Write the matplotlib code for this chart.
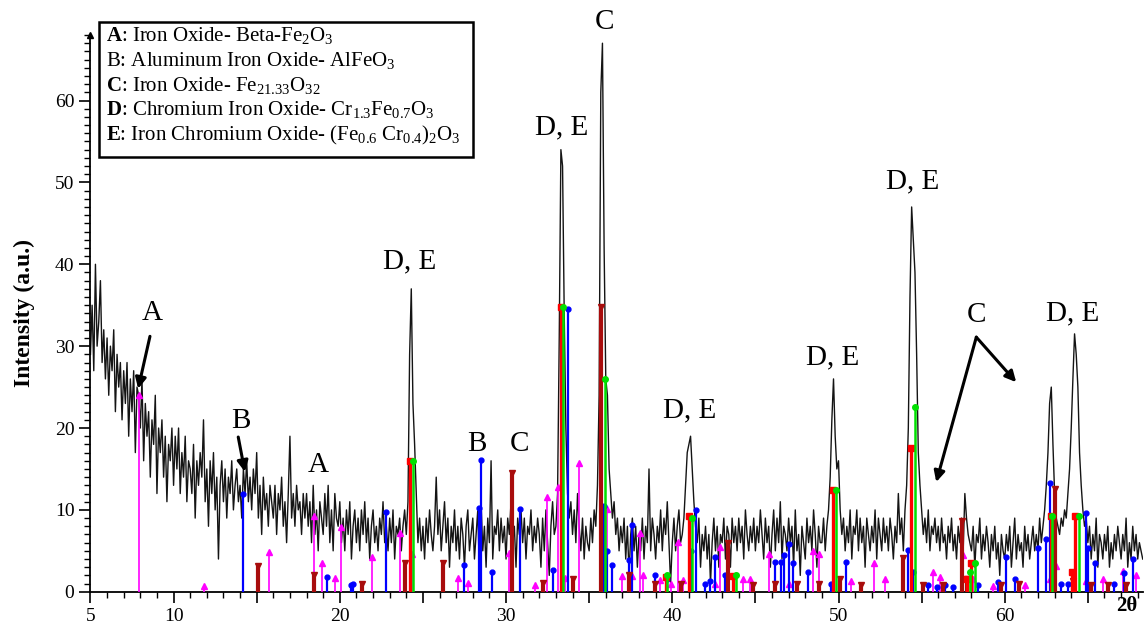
import numpy as np
import matplotlib
matplotlib.use("Agg")
import matplotlib.pyplot as plt
from matplotlib.patches import Rectangle
from matplotlib.ticker import FixedLocator, MultipleLocator, FuncFormatter

plt.rcParams['font.family'] = ['Liberation Serif', 'DejaVu Serif']
plt.rcParams['mathtext.fontset'] = 'custom'
plt.rcParams['mathtext.rm'] = 'Liberation Serif'
plt.rcParams['mathtext.it'] = 'Liberation Serif:italic'
plt.rcParams['mathtext.bf'] = 'Liberation Serif:bold'

# measured pattern, 0.1 deg step starting at 5.0 (one row per degree)
intensity = [
    29, 35, 27, 40, 30, 33, 38, 28, 32, 26,
    31, 24, 30, 27, 32, 22, 29, 25, 28, 21,
    27, 23, 28, 19, 26, 22, 27, 17, 25, 24,
    20, 26, 16, 23, 19, 22, 14, 21, 18, 24,
    12, 20, 17, 21, 14, 19, 11, 18, 16, 20,
    13, 19, 15, 20, 12, 17, 14, 19, 11, 16,
    15, 12, 18, 9, 16, 13, 17, 14, 21, 11,
    15, 8, 16, 12, 17, 10, 14, 4, 13, 16,
    11, 15, 9, 14, 12, 16, 10, 13, 15, 11,
    13, 9, 15, 12, 16, 11, 14, 10, 15, 12,
    17, 9, 13, 7, 14, 10, 12, 8, 13, 11,
    9, 13, 7, 12, 10, 14, 8, 11, 6, 12,
    19, 9, 12, 8, 13, 10, 11, 7, 12, 9,
    12, 8, 11, 6, 13, 7, 10, 5, 11, 9,
    7, 12, 8, 13, 6, 10, 5, 12, 9, 8,
    11, 6, 9, 5, 10, 7, 11, 4, 8, 10,
    6, 9, 5, 10, 7, 11, 6, 9, 4, 8,
    10, 6, 8, 5, 9, 7, 11, 6, 8, 5,
    9, 6, 10, 4, 8, 7, 9, 5, 8, 10,
    7, 11, 29, 37, 23, 18, 12, 6, 9, 5,
    8, 4, 9, 6, 10, 7, 5, 8, 14, 7,
    10, 5, 8, 11, 6, 9, 3, 8, 6, 10,
    5, 8, 4, 9, 7, 3, 8, 10, 5, 7,
    9, 4, 7, 10, 2, 11, 5, 8, 3, 9,
    6, 16, 4, 8, 7, 10, 5, 9, 6, 8,
    4, 9, 7, 11, 6, 8, 3, 9, 7, 10,
    6, 9, 4, 8, 7, 10, 5, 8, 6, 9,
    7, 3, 9, 5, 10, 6, 2, 8, 11, 7,
    8, 12, 31, 54, 52, 34, 20, 12, 9, 11,
    7, 10, 6, 12, 8, 5, 9, 4, 8, 6,
    5, 9, 6, 10, 8, 13, 24, 61, 67, 42,
    26, 24, 15, 12, 9, 11, 7, 9, 5, 8,
    6, 9, 4, 8, 2, 7, 9, 5, 8, 3,
    7, 5, 9, 4, 8, 6, 15, 5, 9, 7,
    4, 8, 6, 10, 5, 9, 7, 11, 6, 1,
    6, 9, 5, 8, 10, 6, 7, 9, 13, 17,
    18, 19, 15, 11, 8, 6, 9, 3, 7, 5,
    8, 4, 7, 1, 6, 9, 5, 8, 3, 7,
    6, 9, 4, 8, 7, 3, 9, 6, 8, 5,
    9, 6, 8, 4, 10, 7, 5, 8, 6, 9,
    5, 8, 6, 10, 7, 4, 9, 6, 8, 3,
    7, 10, 5, 9, 6, 11, 4, 8, 7, 5,
    9, 6, 8, 3, 10, 5, 7, 2, 8, 6,
    4, 9, 6, 8, 5, 10, 7, 3, 8, 6,
    6, 9, 5, 8, 10, 14, 21, 26, 19, 15,
    16, 10, 7, 9, 5, 8, 6, 10, 4, 8,
    7, 10, 5, 9, 6, 8, 3, 9, 7, 5,
    8, 6, 10, 4, 9, 7, 5, 9, 6, 8,
    5, 9, 7, 4, 8, 6, 12, 7, 9, 5,
    10, 13, 20, 36, 47, 43, 39, 29, 17, 13,
    10, 7, 9, 6, 10, 5, 8, 7, 9, 6,
    8, 5, 9, 6, 7, 4, 8, 6, 9, 5,
    7, 4, 8, 6, 9, 5, 12, 9, 7, 6,
    5, 8, 3, 7, 6, 9, 4, 7, 5, 8,
    6, 3, 7, 5, 8, 4, 6, 2, 7, 5,
    4, 7, 5, 8, 3, 6, 9, 4, 7, 5,
    6, 3, 8, 5, 7, 4, 6, 8, 5, 7,
    5, 9, 6, 8, 10, 13, 17, 23, 25, 18,
    12, 9, 8, 7, 9, 8, 10, 9, 12, 15,
    20, 26, 31.5, 29, 25, 17, 13, 10, 8, 9,
    6, 8, 4, 7, 5, 9, 3, 7, 6, 4,
    7, 5, 8, 3, 6, 4, 7, 5, 8, 6,
    4, 7, 5, 9, 3, 6, 4, 8, 5, 7,
    4, 6, 5, 4,
]
two_theta = 5.0 + 0.1 * np.arange(len(intensity))

# reference patterns (position 2theta, relative intensity)
a_pos = [7.9, 11.85, 15.75, 18.45, 18.9, 19.7, 20.1, 21.95, 23.65, 24.35, 27.1, 27.7,
         30.15, 31.75, 32.45, 33.15, 33.55, 34.4, 36.05, 36.95, 37.55, 38.05, 38.25,
         39.25, 39.95, 40.35, 40.65, 42.55, 42.9, 44.25, 44.65, 45.8, 47.05, 48.45,
         48.85, 50.75, 52.15, 52.8, 55.7, 56.1, 57.5, 58.1, 59.3, 61.2, 62.7, 63.1,
         64.9, 65.9, 67.1, 67.9]
a_int = [24.0, 0.7, 4.9, 9.3, 3.5, 1.7, 7.9, 4.2, 7.2, 4.6, 1.7, 1.1,
         4.7, 0.8, 11.6, 12.8, 1.7, 15.7, 10.1, 1.9, 1.9, 7.2, 2.0,
         1.4, 0.9, 6.1, 1.4, 1.0, 5.5, 1.5, 1.5, 4.6, 1.0, 5.0,
         4.6, 1.3, 3.5, 1.5, 2.4, 1.8, 4.5, 1.5, 0.7, 0.8, 1.5, 3.1,
         1.3, 1.5, 2.5, 2.0]

b_pos = [14.2, 19.25, 20.65, 20.8, 22.8, 27.5, 28.38, 28.48, 29.15, 30.85, 32.85, 33.75,
         35.9, 36.1, 36.35, 37.4, 37.6, 38.95, 39.7, 41.1, 41.4, 41.95, 42.25, 42.55,
         43.15, 46.15, 46.55, 46.75, 47.05, 47.25, 48.15, 49.55, 50.45, 54.2, 54.5,
         55.4, 55.9, 56.4, 56.9, 58.4, 59.6, 60.1, 60.6, 62.0, 62.5, 62.7, 63.4, 63.8,
         64.9, 65.0, 65.4, 66.6, 67.2, 67.7]
b_int = [12.0, 1.8, 0.8, 1.0, 9.8, 3.3, 10.2, 16.1, 2.4, 10.1, 2.6, 34.5,
         10.5, 5.0, 3.3, 3.9, 8.2, 2.0, 1.5, 5.0, 10.0, 1.0, 1.3, 4.3,
         2.0, 3.6, 3.6, 4.5, 5.8, 3.5, 2.4, 1.0, 3.6, 5.1, 2.4,
         0.8, 0.6, 0.8, 0.6, 0.8, 1.2, 4.2, 1.6, 5.3, 6.5, 13.3, 1.0, 1.0,
         9.6, 5.4, 3.5, 1.0, 2.3, 4.0]

c_pos = [15.1, 18.45, 21.35, 23.9, 26.2, 30.35, 32.25, 34.05, 35.7, 37.4, 38.95, 40.5,
         43.35, 44.85, 46.15, 47.5, 48.85, 50.1, 51.35, 53.85, 55.1, 56.3, 57.4, 57.7,
         59.8, 60.85, 63.0, 64.1, 65.2, 66.2, 67.3]
c_int = [3.2, 2.0, 1.0, 3.5, 3.5, 14.5, 1.1, 1.6, 34.8, 2.0, 1.0, 1.0,
         5.9, 0.8, 0.9, 0.9, 0.9, 1.5, 0.8, 4.1, 0.8, 0.8, 8.6, 1.5,
         0.8, 1.0, 12.6, 1.3, 0.8, 0.8, 0.8]

d_pos = [24.25, 33.3, 39.6, 41.0, 43.65, 49.65, 54.35, 57.7, 58.0, 62.8, 64.05, 64.2]
d_int = [16.0, 34.8, 1.8, 9.2, 1.9, 12.4, 17.5, 1.6, 3.5, 9.2, 2.4, 9.2]

e_pos = [24.4, 33.4, 35.95, 39.7, 41.2, 43.85, 49.85, 54.6, 57.9, 58.2, 62.85, 64.45]
e_int = [16.0, 34.8, 26.0, 2.0, 9.0, 2.1, 12.4, 22.6, 2.4, 3.5, 9.2, 9.2]

legend_lines = [
    r"$\mathbf{A}$: Iron Oxide- Beta-Fe$_2$O$_3$",
    r"B: Aluminum Iron Oxide- AlFeO$_3$",
    r"$\mathbf{C}$: Iron Oxide- Fe$_{21.33}$O$_{32}$",
    r"$\mathbf{D}$: Chromium Iron Oxide- Cr$_{1.3}$Fe$_{0.7}$O$_3$",
    r"$\mathbf{E}$: Iron Chromium Oxide- (Fe$_{0.6}$ Cr$_{0.4}$)$_2$O$_3$",
]

fig = plt.figure(figsize=(11.45, 6.37), dpi=100)
ax = fig.add_axes([0.079, 0.071, 0.919, 0.874])

ax.plot(two_theta, intensity, color='#141414', lw=1.0, zorder=2)

phases = [
    (a_pos, a_int, '#ff00ff', '^', 1.2, 4),
    (b_pos, b_int, '#0000ff', 'o', 1.6, 3.5),
    (c_pos, c_int, '#a80c0c', 'v', 3.0, 4.5),
    (d_pos, d_int, '#ff0000', 's', 2.4, 4),
    (e_pos, e_int, '#00e000', 'o', 1.8, 4),
]
for i, (pos, val, col, mk, lw, ms) in enumerate(phases):
    ax.vlines(pos, 0, val, colors=col, lw=lw, zorder=3 + i)
    ax.plot(pos, val, linestyle='none', marker=mk, color=col, ms=ms, zorder=3 + i)

ax.set_xlim(5, 68.3)
ax.set_ylim(0, 68)

for side in ['top', 'right']:
    ax.spines[side].set_visible(False)
for side in ['left', 'bottom']:
    ax.spines[side].set_linewidth(1.3)

ax.xaxis.set_major_locator(FixedLocator(list(range(5, 70, 5))))
ax.xaxis.set_minor_locator(MultipleLocator(1))
shown = [5, 10, 20, 30, 40, 50, 60]
ax.xaxis.set_major_formatter(FuncFormatter(lambda v, p: f"{v:.0f}" if round(v) in shown else ""))
ax.yaxis.set_major_locator(MultipleLocator(10))
ax.yaxis.set_minor_locator(MultipleLocator(1))
ax.tick_params(which='major', direction='out', length=8, width=1.2, labelsize=14)
ax.tick_params(which='minor', direction='out', length=4, width=1.0)
ax.plot(0, 1, marker='^', color='black', ms=4, transform=ax.transAxes, clip_on=False)

ax.set_ylabel("Intensity (a.u.)", fontsize=17, fontweight='bold', labelpad=14)
ax.text(67.35, -1.7, "2θ", fontsize=15, fontweight='bold', ha='center', va='center')

# peak labels
label_kw = dict(fontsize=21, ha='center', va='center')
ax.text(8.70, 34.0, "A", **label_kw)
ax.text(14.05, 20.8, "B", **label_kw)
ax.text(18.70, 15.5, "A", **label_kw)
ax.text(24.21, 40.4, "D, E", **label_kw)
ax.text(28.26, 18.0, "B", **label_kw)
ax.text(30.83, 18.0, "C", **label_kw)
ax.text(33.33, 56.7, "D, E", **label_kw)
ax.text(35.94, 69.6, "C", clip_on=False, **label_kw)
ax.text(41.05, 22.1, "D, E", **label_kw)
ax.text(49.67, 28.6, "D, E", **label_kw)
ax.text(54.48, 50.1, "D, E", **label_kw)
ax.text(58.29, 33.8, "C", **label_kw)
ax.text(64.06, 34.0, "D, E", **label_kw)

arrow_kw = dict(arrowstyle='-|>', color='black', lw=2.2, mutation_scale=16, shrinkA=0, shrinkB=0)
ax.annotate("", xy=(7.87, 24.8), xytext=(8.58, 31.2), arrowprops=arrow_kw)
ax.annotate("", xy=(14.29, 14.65), xytext=(13.89, 18.9), arrowprops=arrow_kw)
ax.annotate("", xy=(55.88, 13.4), xytext=(58.29, 31.1), arrowprops=arrow_kw)
ax.annotate("", xy=(60.69, 25.6), xytext=(58.29, 31.1), arrowprops=arrow_kw)

# phase key box
fig.patches.append(Rectangle((98.7 / 1145, 1 - 157.3 / 637), 374 / 1145, 135.6 / 637,
                             transform=fig.transFigure, fill=False, ec='black', lw=1.8))
for k, line in enumerate(legend_lines):
    fig.text(106 / 1145, 1 - (41.3 + 24.7 * k) / 637, line, fontsize=15,
             ha='left', va='baseline')

fig.savefig("out.png", dpi=100)
